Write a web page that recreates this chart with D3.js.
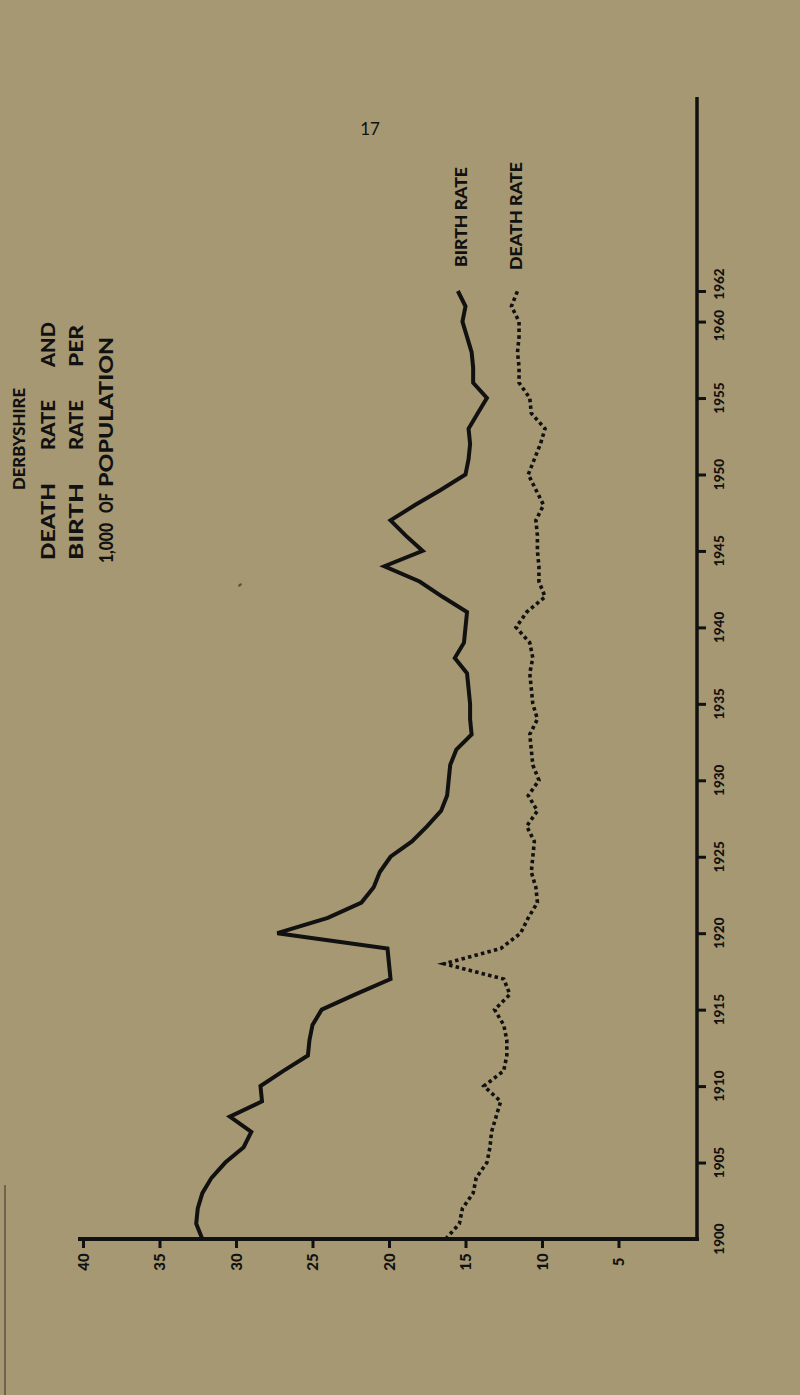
<!DOCTYPE html>
<html><head><meta charset="utf-8">
<script src="https://cdn.jsdelivr.net/npm/d3@7/dist/d3.min.js"></script>
<style>html,body{margin:0;padding:0;background:#a69872;}svg{display:block;}</style>
</head><body><svg id="c" width="800" height="1395"></svg>
<script>
const years = [1900,1901,1902,1903,1904,1905,1906,1907,1908,1909,1910,1911,1912,1913,1914,1915,1916,1917,1918,1919,1920,1921,1922,1923,1924,1925,1926,1927,1928,1929,1930,1931,1932,1933,1934,1935,1936,1937,1938,1939,1940,1941,1942,1943,1944,1945,1946,1947,1948,1949,1950,1951,1952,1953,1954,1955,1956,1957,1958,1959,1960,1961,1962];
const birthRate = [32.2,32.6,32.5,32.2,31.6,30.7,29.5,29.0,30.4,28.3,28.4,26.9,25.3,25.2,25.0,24.4,22.2,19.9,20.0,20.1,27.3,24.0,21.8,21.0,20.6,19.9,18.5,17.5,16.6,16.2,16.1,16.0,15.6,14.6,14.7,14.7,14.8,14.9,15.7,15.1,15.0,14.9,16.5,18.0,20.3,17.8,18.9,19.9,18.3,16.6,15.0,14.8,14.7,14.8,14.2,13.6,14.5,14.5,14.6,14.9,15.2,15.0,15.5];
const deathRate = [16.3,15.4,15.2,14.5,14.3,13.6,13.4,13.3,13.0,12.7,13.8,12.5,12.3,12.3,12.5,13.1,12.1,12.5,16.4,12.7,11.4,10.9,10.3,10.4,10.7,10.6,10.5,11.0,10.3,10.9,10.2,10.6,10.7,10.8,10.3,10.6,10.7,10.8,10.6,10.8,11.7,11.0,9.8,10.2,10.2,10.3,10.3,10.4,9.9,10.4,10.9,10.5,10.1,9.8,10.7,10.8,11.5,11.5,11.6,11.5,11.5,12.0,11.6];
const rateTicks = [40,35,30,25,20,15,10,5];
const yearTicks = [1905,1910,1915,1920,1925,1930,1935,1940,1945,1950,1955,1960,1962];
const yearLabels = [1900,1905,1910,1915,1920,1925,1930,1935,1940,1945,1950,1955,1960,1962];
const yearLabelNudge = {1960: 4, 1962: -7};

const svg = d3.select("#c");
const ink = "#111";
const font = "Lato, 'Liberation Sans', sans-serif";
const x = d3.scaleLinear().domain([0,40]).range([695,83]);
const y = d3.scaleLinear().domain([1900,1962]).range([1239,291]);

// scan edge at left
svg.append("line").attr("x1",5).attr("x2",5).attr("y1",1185).attr("y2",1395)
  .attr("stroke","#4a4334").attr("stroke-width",1.5).attr("opacity",0.8);
// small speck
svg.append("ellipse").attr("cx",240).attr("cy",585).attr("rx",2.2).attr("ry",1.3)
  .attr("transform","rotate(-40,240,585)").attr("fill","#3a3428").attr("opacity",0.7);

// axes lines
svg.append("line").attr("x1",78).attr("x2",x(0)+4).attr("y1",y(1900)).attr("y2",y(1900))
  .attr("stroke",ink).attr("stroke-width",4);
svg.append("line").attr("x1",x(0)+2).attr("x2",x(0)+2).attr("y1",97).attr("y2",y(1900)+2)
  .attr("stroke",ink).attr("stroke-width",3.5);

// rate ticks (below baseline)
const gx = svg.append("g").attr("transform",`translate(0,${y(1900)})`)
  .call(d3.axisBottom(x).tickValues(rateTicks).tickSize(9).tickPadding(0).tickFormat(d=>""));
gx.select(".domain").remove();
gx.selectAll(".tick line").attr("stroke",ink).attr("stroke-width",3);
svg.selectAll(".rlab").data(rateTicks).enter().append("text")
  .attr("transform",d=>`translate(${x(d)+5.5},1262) rotate(-90)`)
  .attr("text-anchor","middle").attr("font-family",font)
  .attr("font-weight",900).attr("font-size",15).attr("fill",ink).text(d=>d);

// year ticks (right of axis)
const gy = svg.append("g").attr("transform",`translate(${x(0)+2},0)`)
  .call(d3.axisRight(y).tickValues(yearTicks).tickSize(9).tickFormat(d=>""));
gy.select(".domain").remove();
gy.selectAll(".tick line").attr("stroke",ink).attr("stroke-width",3);
svg.selectAll(".ylab").data(yearLabels).enter().append("text")
  .attr("transform",d=>`translate(724,${y(d)+(yearLabelNudge[d]||0)}) rotate(-90)`)
  .attr("text-anchor","middle").attr("font-family",font)
  .attr("font-weight",900).attr("font-size",13.5).attr("fill",ink).text(d=>d);

// lines
const line = d3.line().x(d=>x(d[1])).y(d=>y(d[0]));
svg.append("path").datum(years.map((yr,i)=>[yr,birthRate[i]]))
  .attr("d",line).attr("fill","none").attr("stroke",ink).attr("stroke-width",4)
  .attr("stroke-linejoin","miter");
svg.append("path").datum(years.map((yr,i)=>[yr,deathRate[i]]))
  .attr("d",line).attr("fill","none").attr("stroke",ink).attr("stroke-width",3.6)
  .attr("stroke-dasharray","3.5,3.2");

// rotated text helper
function rtext(txt,bx,by,size,len){
  const t = svg.append("text").attr("transform",`translate(${bx},${by}) rotate(-90)`)
    .attr("font-family",font).attr("font-weight",900)
    .attr("font-size",size).attr("fill",ink).text(txt);
  if(len) t.attr("textLength",len).attr("lengthAdjust","spacingAndGlyphs");
  return t;
}
rtext("BIRTH RATE",467,267,16,100);
rtext("DEATH RATE",522,270,16,108);

// title block
rtext("DERBYSHIRE",25,490,16,102);
rtext("DEATH",55,560,18,77); rtext("RATE",55,450,18,50); rtext("AND",55,367,18,45);
rtext("BIRTH",83,560,18,77); rtext("RATE",83,450,18,50); rtext("PER",83,367,18,42);
rtext("1,000",113,563,18,40); rtext("OF",113,513,18,20); rtext("POPULATION",113,487,18,150);

// page number
svg.append("text").attr("x",370).attr("y",135).attr("text-anchor","middle")
  .attr("font-family",font).attr("font-size",17)
  .attr("fill",ink).text("17");
</script></body></html>
